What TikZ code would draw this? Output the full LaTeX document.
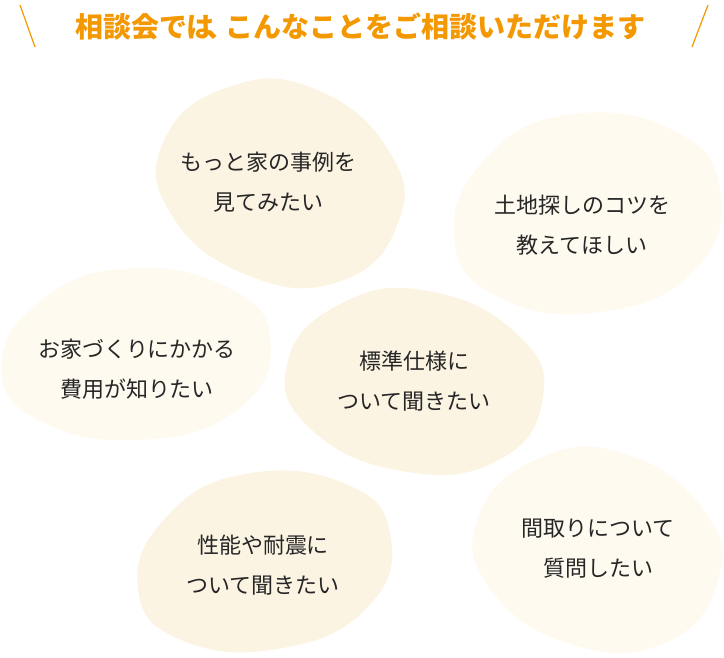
\documentclass[tikz,border=0pt]{standalone}
\usepackage{fontspec}
\setmainfont{Noto Sans CJK JP}
\definecolor{ora}{RGB}{243,152,0}
\definecolor{bdark}{RGB}{252,244,227}
\definecolor{blight}{RGB}{254,250,240}
\begin{document}
\begin{tikzpicture}[x=1pt,y=-1pt,
  lbl/.style={align=center,font=\fontsize{22}{40}\selectfont,text=black!85},
  dark/.style={fill=bdark},
  light/.style={fill=blight}]
\useasboundingbox (0,0) rectangle (724,657);
\newcommand{\myblob}[6]{% cx cy rx ry rot style
 \begin{scope}[shift={(#1,#2)},rotate=#5]
 \fill[#6] plot[smooth cycle,tension=0.8] coordinates{
  (#3,0) (0.72*#3,0.74*#4) (0,1.0*#4) (-0.75*#3,0.68*#4)
  (-1.0*#3,0) (-0.66*#3,-0.72*#4) (0,-1.0*#4) (0.74*#3,-0.66*#4)};
 \end{scope}}
\myblob{281}{182}{124}{99}{-20}{dark}
\myblob{587}{213}{135}{100}{10}{light}
\myblob{136}{354}{135}{86}{5}{light}
\myblob{415}{381}{129}{91}{-8}{dark}
\myblob{264}{561}{129}{89}{12}{dark}
\myblob{598}{549}{124}{99}{-15}{light}
\node[lbl] (a) at (268,182) {もっと家の事例を\\見てみたい};
\node[lbl] (b) at (582,225) {土地探しのコツを\\教えてほしい};
\node[lbl] (c) at (137,369) {お家づくりにかかる\\費用が知りたい};
\node[lbl] (d) at (414,381) {標準仕様に\\ついて聞きたい};
\node[lbl] (e) at (263,565) {性能や耐震に\\ついて聞きたい};
\node[lbl] (f) at (598,549) {間取りについて\\質問したい};
\node[font=\fontsize{28}{32}\selectfont\bfseries,text=ora] (t) at (360,27) {相談会では{\kern-9pt}、{\kern-9pt}こんなことをご相談いただけます};
\coordinate (l1) at (20,5); \coordinate (l2) at (35,47);
\coordinate (r1) at (708,5); \coordinate (r2) at (692,47);
\draw[ora,line width=1.2] (l1) -- (l2) (r1) -- (r2);
\end{tikzpicture}
\end{document}
